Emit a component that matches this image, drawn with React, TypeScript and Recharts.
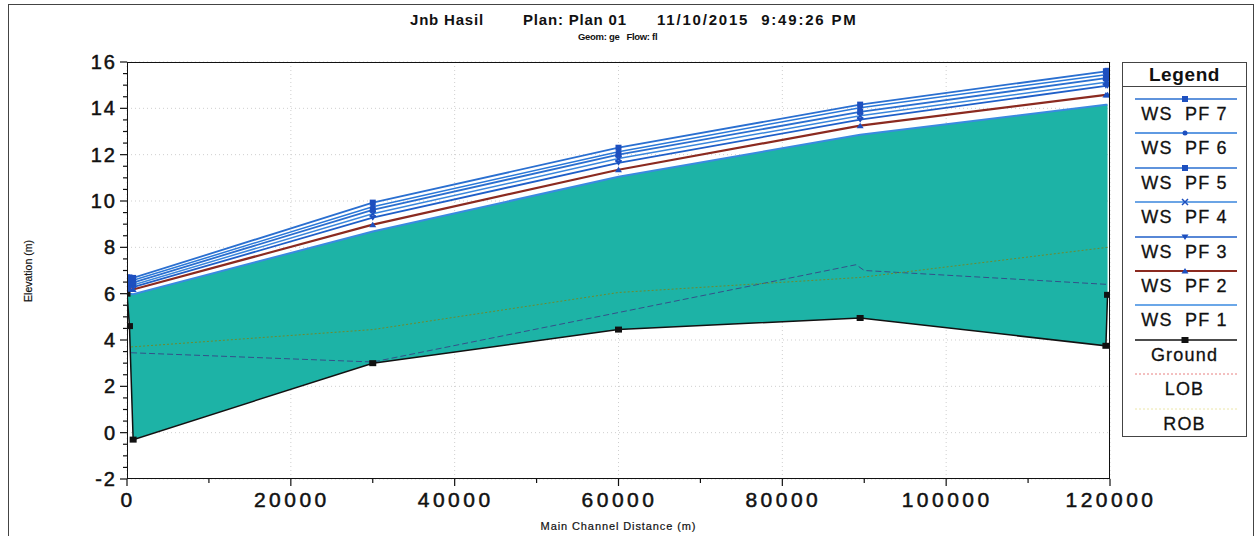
import React from "react";
import {
  ComposedChart,
  Area,
  Line,
  XAxis,
  YAxis,
  CartesianGrid,
} from "recharts";

// profile stations (m) shared by water surfaces and ground
const stations = [0, 300, 750, 30000, 60000, 89500, 119500, 119700];

const wsPF7 = [6.7, 6.7, 6.68, 9.93, 12.3, 14.16, 15.6, 15.62];
const wsPF6 = [6.6, 6.6, 6.58, 9.75, 12.13, 14.03, 15.45, 15.46];
const wsPF5 = [6.5, 6.5, 6.48, 9.62, 12.0, 13.85, 15.3, 15.32];
const wsPF4 = [6.4, 6.4, 6.38, 9.45, 11.83, 13.68, 15.13, 15.15];
const wsPF3 = [6.3, 6.3, 6.28, 9.28, 11.65, 13.51, 14.97, 14.98];
const wsPF2 = [6.2, 6.2, 6.18, 8.98, 11.35, 13.25, 14.58, 14.59];
const wsPF1 = [6.0, 6.0, 5.98, 8.68, 11.05, 12.86, 14.15, 14.16];
const ground = [6.0, 4.6, -0.3, 3.0, 4.45, 4.95, 3.75, 5.95];

// bank stations
const lobStations = [500, 30000, 89000, 90000, 119700];
const lob = [3.45, 3.05, 7.25, 7.0, 6.4];
const robStations = [500, 30000, 60000, 89500, 119700];
const rob = [3.7, 4.45, 6.05, 6.7, 8.0];

const xMajor = [0, 20000, 40000, 60000, 80000, 100000, 120000];
const xMinor = [10000, 30000, 50000, 70000, 90000, 110000];
const yMajor = [-2, 0, 2, 4, 6, 8, 10, 12, 14, 16];
const yMinor = [-1.5, -1, -0.5, 0.5, 1, 1.5, 2.5, 3, 3.5, 4.5, 5, 5.5, 6.5, 7, 7.5, 8.5, 9, 9.5, 10.5, 11, 11.5, 12.5, 13, 13.5, 14.5, 15, 15.5];

const FONT = "'Liberation Sans', Arial, sans-serif";
const MARK = "#1d4fbf";
const TEAL = "#1db3a6";

const profileData = stations.map((x, i) => ({
  x,
  pf7: wsPF7[i],
  pf6: wsPF6[i],
  pf5: wsPF5[i],
  pf4: wsPF4[i],
  pf3: wsPF3[i],
  pf2: wsPF2[i],
  pf1: wsPF1[i],
  ground: ground[i],
  fill: [ground[i], wsPF1[i]],
}));
const lobData = lobStations.map((x, i) => ({ x, lob: lob[i] }));
const robData = robStations.map((x, i) => ({ x, rob: rob[i] }));

type Shape = "square" | "dot" | "cross" | "tdown" | "tup" | "none" | "black";

function Marker({ cx, cy, shape }: { cx: number; cy: number; shape: Shape }) {
  if (cx == null || cy == null) return null;
  switch (shape) {
    case "square":
      return <rect x={cx - 3} y={cy - 3} width={6} height={6} fill={MARK} />;
    case "dot":
      return <circle cx={cx} cy={cy} r={2.5} fill={MARK} />;
    case "cross":
      return (
        <path d={`M${cx - 3},${cy - 3}L${cx + 3},${cy + 3}M${cx - 3},${cy + 3}L${cx + 3},${cy - 3}`} stroke={MARK} strokeWidth={1.5} />
      );
    case "tdown":
      return <path d={`M${cx - 3.5},${cy - 2.5}L${cx + 3.5},${cy - 2.5}L${cx},${cy + 3}Z`} fill={MARK} />;
    case "tup":
      return <path d={`M${cx - 3.5},${cy + 2.5}L${cx + 3.5},${cy + 2.5}L${cx},${cy - 3}Z`} fill={MARK} />;
    case "black":
      return <rect x={cx - 3.5} y={cy - 3} width={7} height={6} fill="#111" />;
    default:
      return null;
  }
}

const dotOf = (shape: Shape) => (p: any) => <Marker key={`${shape}-${p.index}`} cx={p.cx} cy={p.cy} shape={shape} />;

function YTick(props: any) {
  const { x, y, payload } = props;
  const major = yMajor.includes(payload.value);
  return (
    <g>
      <line x1={x} x2={x - (major ? 7 : 4)} y1={y} y2={y} stroke="#111" strokeWidth={1.2} />
      {major && (
        <text x={x - 10} y={y} dy={7} textAnchor="end" fontSize={20} fontFamily={FONT} fill="#111" stroke="#111" strokeWidth={0.5} letterSpacing={2}>
          {payload.value}
        </text>
      )}
    </g>
  );
}

function XTick(props: any) {
  const { x, y, payload } = props;
  const major = xMajor.includes(payload.value);
  return (
    <g>
      <line x1={x} x2={x} y1={y} y2={y + (major ? 7 : 4)} stroke="#111" strokeWidth={1.2} />
      {major && (
        <text x={x + 1} y={y} dy={28} textAnchor="middle" fontSize={21} fontFamily={FONT} fill="#111" stroke="#111" strokeWidth={0.5} letterSpacing={3.5}>
          {payload.value}
        </text>
      )}
    </g>
  );
}

const legendItems: Array<{ name: string; color: string; shape: Shape; dash?: string; width?: number }> = [
  { name: "WS  PF 7", color: "#2a6fd0", shape: "square" },
  { name: "WS  PF 6", color: "#2a78d8", shape: "dot" },
  { name: "WS  PF 5", color: "#2a6fd0", shape: "square" },
  { name: "WS  PF 4", color: "#3a86dc", shape: "cross" },
  { name: "WS  PF 3", color: "#1f5fc8", shape: "tdown" },
  { name: "WS  PF 2", color: "#8b2a20", shape: "tup", width: 2 },
  { name: "WS  PF 1", color: "#3a8ae0", shape: "none" },
  { name: "Ground", color: "#111", shape: "black" },
  { name: "LOB", color: "#e88080", shape: "none", dash: "2 2", width: 1 },
  { name: "ROB", color: "#ece6a8", shape: "none", dash: "2 2", width: 1 },
];

function LegendBox() {
  return (
    <div
      style={{
        position: "absolute",
        left: 1122,
        top: 62,
        width: 123,
        height: 373,
        border: "1.5px solid #444",
        background: "#fff",
        fontFamily: FONT,
      }}
    >
      <div
        style={{
          height: 23,
          borderBottom: "1.5px solid #444",
          textAlign: "center",
          fontWeight: "bold",
          fontSize: 19,
          lineHeight: "23px",
          letterSpacing: 0.6,
          color: "#111",
        }}
      >
        Legend
      </div>
      {legendItems.map((it) => (
        <div key={it.name} style={{ height: 34.4, position: "relative" }}>
          <svg width={123} height={20} style={{ position: "absolute", left: 0, top: 2 }}>
            <line x1={12} x2={114} y1={10} y2={10} stroke={it.color} strokeWidth={it.width ?? 1.5} strokeDasharray={it.dash} />
            <Marker cx={62} cy={10} shape={it.shape} />
          </svg>
          <div
            style={{
              position: "absolute",
              left: 0,
              width: 123,
              top: 16,
              textAlign: "center",
              fontSize: 18,
              lineHeight: "22px",
              letterSpacing: 1.2,
              color: "#111",
              whiteSpace: "pre",
              WebkitTextStroke: "0.3px #111",
            }}
          >
            {it.name}
          </div>
        </div>
      ))}
    </div>
  );
}

export default function App() {
  const titleStyle: React.CSSProperties = {
    position: "absolute",
    top: 11,
    fontSize: 15,
    fontWeight: "bold",
    letterSpacing: 0.8,
    color: "#111",
    whiteSpace: "pre",
  };
  return (
    <div style={{ position: "absolute", left: 0, top: 0, width: 1257, height: 536, background: "#fff", fontFamily: FONT }}>
      <div style={{ position: "absolute", left: 8, top: 4, width: 1246, height: 540, borderLeft: "1px solid #444", borderTop: "1px solid #444", borderRight: "1px solid #444", boxSizing: "border-box" }} />
      <div style={{ ...titleStyle, left: 410 }}>Jnb Hasil</div>
      <div style={{ ...titleStyle, left: 523 }}>Plan: Plan 01</div>
      <div style={{ ...titleStyle, left: 657, letterSpacing: 1.8 }}>{"11/10/2015  9:49:26 PM"}</div>
      <div style={{ position: "absolute", top: 31, left: 578, fontSize: 9.5, fontWeight: "bold", letterSpacing: -0.3, color: "#111", whiteSpace: "pre" }}>
        {"Geom: ge   Flow: fl"}
      </div>
      <div
        style={{
          position: "absolute",
          left: 28,
          top: 271,
          transform: "translate(-50%, -50%) rotate(-90deg)",
          fontSize: 10.5,
          color: "#111",
          whiteSpace: "nowrap",
          WebkitTextStroke: "0.2px #111",
        }}
      >
        Elevation (m)
      </div>
      <div style={{ position: "absolute", left: 127, width: 983, top: 520, textAlign: "center", fontSize: 11, letterSpacing: 0.9, color: "#111", WebkitTextStroke: "0.2px #111" }}>
        Main Channel Distance (m)
      </div>

      <div style={{ position: "absolute", left: 0, top: 0 }}>
        <ComposedChart width={1257} height={536} data={profileData} margin={{ top: 62, right: 147, bottom: 17, left: 0 }}>
          <CartesianGrid
            stroke="#cfcfcf"
            strokeDasharray="1 3"
            horizontalValues={yMajor}
            verticalValues={xMajor}
          />
          <XAxis
            type="number"
            dataKey="x"
            domain={[0, 120000]}
            ticks={[...xMajor, ...xMinor].sort((a, b) => a - b)}
            interval={0}
            height={40}
            tickSize={0}
            tickMargin={0}
            tickLine={false}
            axisLine={false}
            tick={<XTick />}
            allowDataOverflow
          />
          <YAxis
            type="number"
            domain={[-2, 16]}
            ticks={[...yMajor, ...yMinor].sort((a, b) => a - b)}
            interval={0}
            width={127}
            tickSize={0}
            tickMargin={0}
            tickLine={false}
            axisLine={false}
            tick={<YTick />}
            allowDataOverflow
          />
          <Area dataKey="fill" type="linear" fill={TEAL} fillOpacity={1} stroke="none" isAnimationActive={false} />
          <Line data={lobData} dataKey="lob" type="linear" stroke="#34508a" strokeWidth={1} strokeDasharray="6 3" dot={false} isAnimationActive={false} />
          <Line data={robData} dataKey="rob" type="linear" stroke="#6f8a2c" strokeWidth={1} strokeDasharray="2 2" dot={false} isAnimationActive={false} />
          <Line dataKey="ground" type="linear" stroke="#111" strokeWidth={1.5} dot={dotOf("black")} isAnimationActive={false} />
          <Line dataKey="pf1" type="linear" stroke="#3a8ae0" strokeWidth={2} dot={false} isAnimationActive={false} />
          <Line dataKey="pf2" type="linear" stroke="#8b2a20" strokeWidth={2.2} dot={dotOf("tup")} isAnimationActive={false} />
          <Line dataKey="pf3" type="linear" stroke="#1f5fc8" strokeWidth={1.8} dot={dotOf("tdown")} isAnimationActive={false} />
          <Line dataKey="pf4" type="linear" stroke="#3a86dc" strokeWidth={1.5} dot={dotOf("cross")} isAnimationActive={false} />
          <Line dataKey="pf5" type="linear" stroke="#2a6fd0" strokeWidth={1.8} dot={dotOf("square")} isAnimationActive={false} />
          <Line dataKey="pf6" type="linear" stroke="#2a78d8" strokeWidth={1.5} dot={dotOf("dot")} isAnimationActive={false} />
          <Line dataKey="pf7" type="linear" stroke="#2a6fd0" strokeWidth={1.8} dot={dotOf("square")} isAnimationActive={false} />
        </ComposedChart>
      </div>

      <div style={{ position: "absolute", left: 127, top: 62, width: 983, height: 417, border: "1.5px solid #111", boxSizing: "border-box", pointerEvents: "none" }} />
      <LegendBox />
    </div>
  );
}
